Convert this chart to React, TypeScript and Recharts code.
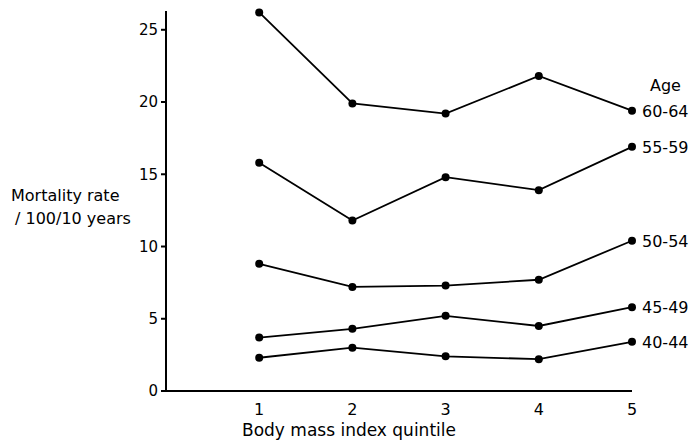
import { LineChart, Line, XAxis, YAxis, LabelList, Label } from 'recharts';

const quintiles = [1, 2, 3, 4, 5];
const yTicks = [0, 5, 10, 15, 20, 25];
const ageGroups = ['40-44', '45-49', '50-54', '55-59', '60-64'];
const age4044 = [2.3, 3.0, 2.4, 2.2, 3.4];
const age4549 = [3.7, 4.3, 5.2, 4.5, 5.8];
const age5054 = [8.8, 7.2, 7.3, 7.7, 10.4];
const age5559 = [15.8, 11.8, 14.8, 13.9, 16.9];
const age6064 = [26.2, 19.9, 19.2, 21.8, 19.4];

const series = [age4044, age4549, age5054, age5559, age6064];

const data = quintiles.map((q, i) => {
  const row: Record<string, number> = { q };
  ageGroups.forEach((g, k) => { row[g] = series[k][i]; });
  return row;
});

const FONT = '"DejaVu Sans", sans-serif';

function endLabel(group: string, withAge: boolean) {
  return (props: any) => {
    const { x, y, index } = props;
    if (index !== quintiles.length - 1) return null;
    return (
      <g>
        {withAge && (
          <text x={x + 18} y={y - 20} fontSize={16} fill="#000" fontFamily={FONT}>Age</text>
        )}
        <text x={x + 10} y={y + 6} fontSize={16} fill="#000" fontFamily={FONT}>{group}</text>
      </g>
    );
  };
}

const YTitle = () => (
  <g>
    <text x={11} y={201} fontSize={16} fill="#000" fontFamily={FONT}>Mortality rate</text>
    <text x={15} y={224} fontSize={16} fill="#000" fontFamily={FONT}>/ 100/10 years</text>
  </g>
);

const XTitle = () => (
  <text x={242} y={436} fontSize={17} fill="#000" fontFamily={FONT}>Body mass index quintile</text>
);

export default function App() {
  return (
    <div style={{ position: 'absolute', left: 0, top: 0, width: 690, height: 441, background: '#fff', fontFamily: FONT }}>
      <LineChart width={690} height={441} data={data} margin={{ top: 11, right: 58, left: 0, bottom: 0 }}>
        <XAxis
          dataKey="q"
          type="number"
          domain={[0, 5]}
          ticks={quintiles}
          tickLine={false}
          tickSize={5}
          tickMargin={8}
          axisLine={{ stroke: '#000', strokeWidth: 2 }}
          tick={{ fill: '#000', fontSize: 16 }}
          height={50}
        >
          <Label content={<XTitle />} />
        </XAxis>
        <YAxis
          type="number"
          domain={[0, 26.3]}
          ticks={yTicks}
          width={166}
          tickSize={5}
          tickMargin={3}
          axisLine={{ stroke: '#000', strokeWidth: 2 }}
          tickLine={{ stroke: '#000', strokeWidth: 2 }}
          tick={{ fill: '#000', fontSize: 15 }}
        >
          <Label content={<YTitle />} />
        </YAxis>
        {ageGroups.map((g) => (
          <Line
            key={g}
            dataKey={g}
            type="linear"
            stroke="#000"
            strokeWidth={1.8}
            dot={{ r: 4, fill: '#000', stroke: '#000', strokeWidth: 0 }}
            activeDot={false}
            isAnimationActive={false}
          >
            <LabelList dataKey={g} content={endLabel(g, g === '60-64')} />
          </Line>
        ))}
      </LineChart>
    </div>
  );
}
